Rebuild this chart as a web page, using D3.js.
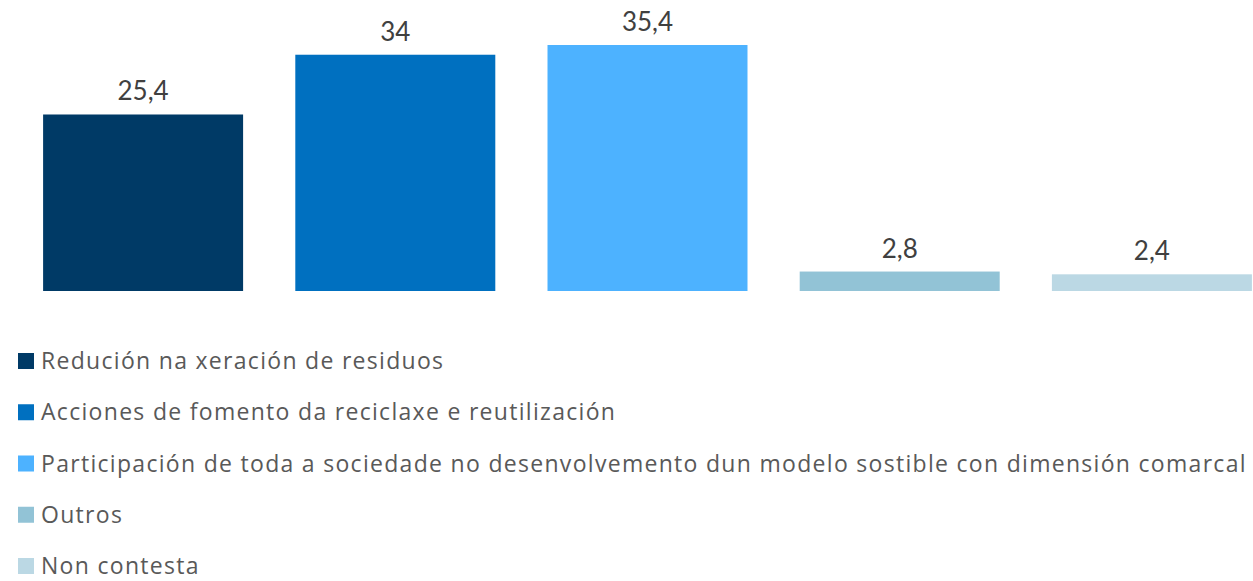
<!DOCTYPE html>
<html>
<head>
<meta charset="utf-8">
<script src="https://cdn.jsdelivr.net/npm/d3@7"></script>
<style>
  body { margin: 0; background: #fff; }
  svg { display: block; }
</style>
</head>
<body>
<svg class="chart"></svg>
<script>
const categories = [
  'Redución na xeración de residuos',
  'Acciones de fomento da reciclaxe e reutilización',
  'Participación de toda a sociedade no desenvolvemento dun modelo sostible con dimensión comarcal',
  'Outros',
  'Non contesta'
];
const values = [25.4, 34, 35.4, 2.8, 2.4];
const colors = ['#003A66', '#0070C0', '#4DB2FF', '#92C3D6', '#BBD8E4'];

const width = 1253;
const height = 581;

const svg = d3.select('.chart')
    .attr('width', width)
    .attr('height', height);

// bars
const x = d3.scaleBand()
    .domain(d3.range(values.length))
    .range([17, 1278])
    .paddingInner(0.207)
    .paddingOuter(0.1035);

const y = d3.scaleLinear()
    .domain([0, 35.4])
    .range([291, 45]);

const fmt = v => String(v).replace('.', ',');

svg.append('g')
  .selectAll('rect')
  .data(values)
  .join('rect')
    .attr('x', (d, i) => x(i))
    .attr('y', d => y(d))
    .attr('width', x.bandwidth())
    .attr('height', d => y(0) - y(d))
    .attr('fill', (d, i) => colors[i]);

svg.append('g')
  .selectAll('text')
  .data(values)
  .join('text')
    .attr('x', (d, i) => x(i) + x.bandwidth() / 2)
    .attr('y', d => y(d) - 14)
    .attr('text-anchor', 'middle')
    .attr('font-family', 'Lato, sans-serif')
    .attr('font-size', 26)
    .attr('fill', '#404040')
    .text(fmt);

// legend
const legendY = d3.scaleLinear()
    .domain([0, categories.length - 1])
    .range([361, 566]);

const legend = svg.append('g')
  .selectAll('g')
  .data(categories)
  .join('g')
    .attr('transform', (d, i) => `translate(18,${legendY(i)})`);

legend.append('rect')
    .attr('x', 0)
    .attr('y', -8)
    .attr('width', 16)
    .attr('height', 16)
    .attr('fill', (d, i) => colors[i]);

legend.append('text')
    .attr('x', 23)
    .attr('y', 0)
    .attr('dy', '0.35em')
    .attr('font-family', '"Open Sans", sans-serif')
    .attr('font-size', 23)
    .attr('letter-spacing', 1.3)
    .attr('fill', '#595959')
    .text(d => d);
</script>
</body>
</html>
